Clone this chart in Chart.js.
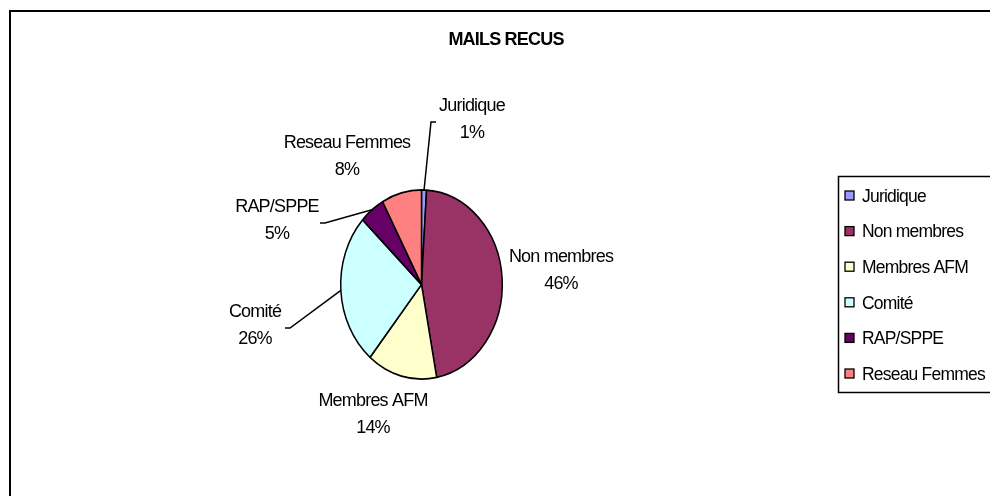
<!DOCTYPE html>
<html>
<head>
<meta charset="utf-8">
<script src="https://cdn.jsdelivr.net/npm/chart.js@4.4.1/dist/chart.umd.min.js"></script>
<style>
  html, body { margin: 0; padding: 0; background: #fff; }
  #wrap { width: 990px; height: 496px; }
</style>
</head>
<body>
<div id="wrap"><canvas id="mails" width="990" height="496"></canvas></div>
<script>
const labels = ['Juridique', 'Non membres', 'Membres AFM', 'Comité', 'RAP/SPPE', 'Reseau Femmes'];
const values = [1, 46, 14, 26, 5, 8];
const colors = ['#9999FF', '#993366', '#FFFFCC', '#CCFFFF', '#660066', '#FF8080'];

// where Excel put the data labels (centre of the two lines), and leader elbows
const labelPos = [[472, 120], [561, 271], [373, 415], [255, 326], [277, 221], [347, 157]];
const leaders = [{x: 431, y: 122, tick: 5}, null, null, {x: 290, y: 328, tick: -5}, {x: 325, y: 223, tick: -5}, null];

const stretchY = 1.17;
const FONT = '"Liberation Sans", Arial, sans-serif';

function setFont(ctx, size, bold) {
  ctx.font = (bold ? 'bold ' : '') + size + 'px ' + FONT;
  ctx.letterSpacing = '-0.8px';
}

const ovalPie = {
  id: 'ovalPie',
  beforeDatasetsDraw(chart) {
    const arc = chart.getDatasetMeta(0).data[0];
    const ctx = chart.ctx;
    ctx.save();
    ctx.translate(arc.x, arc.y);
    ctx.scale(1, stretchY);
    ctx.translate(-arc.x, -arc.y);
  },
  afterDatasetsDraw(chart) {
    chart.ctx.restore();
  }
};

const excelDeco = {
  id: 'excelDeco',
  afterDraw(chart) {
    const ctx = chart.ctx;
    const meta = chart.getDatasetMeta(0);
    ctx.save();

    // outer frame
    ctx.strokeStyle = '#000';
    ctx.lineWidth = 2;
    ctx.strokeRect(10, 11, 1000, 510);

    // title
    ctx.fillStyle = '#000';
    setFont(ctx, 18, true);
    ctx.textAlign = 'center';
    ctx.textBaseline = 'middle';
    ctx.fillText('MAILS RECUS', 506, 40);

    // data labels + leader lines
    setFont(ctx, 18, false);
    const total = values.reduce((a, b) => a + b, 0);
    meta.data.forEach((arc, i) => {
      const [lx, ly] = labelPos[i];
      ctx.fillText(labels[i], lx, ly - 13.5);
      ctx.fillText(Math.round(values[i] / total * 100) + '%', lx, ly + 13.5);
      const ld = leaders[i];
      if (ld) {
        const mid = (arc.startAngle + arc.endAngle) / 2;
        const ex = arc.x + arc.outerRadius * Math.cos(mid);
        const ey = arc.y + arc.outerRadius * stretchY * Math.sin(mid);
        ctx.beginPath();
        ctx.lineWidth = 1.5;
        ctx.moveTo(ld.x + ld.tick, ld.y);
        ctx.lineTo(ld.x, ld.y);
        ctx.lineTo(ex, ey);
        ctx.stroke();
      }
    });

    // legend box
    ctx.lineWidth = 1.5;
    ctx.strokeRect(838.5, 176.5, 160, 216);
    ctx.textAlign = 'left';
    setFont(ctx, 17.5, false);
    labels.forEach((lab, i) => {
      const y = 196 + i * 35.6;
      ctx.fillStyle = colors[i];
      ctx.fillRect(845, y - 5, 9, 9);
      ctx.strokeStyle = '#000';
      ctx.lineWidth = 1.3;
      ctx.strokeRect(845, y - 5, 9, 9);
      ctx.fillStyle = '#000';
      ctx.fillText(lab, 862, y + 1);
    });
    ctx.restore();
  }
};

new Chart(document.getElementById('mails'), {
  type: 'pie',
  data: {
    labels: labels,
    datasets: [{
      data: values,
      backgroundColor: colors,
      borderColor: '#000',
      borderWidth: 1.5
    }]
  },
  options: {
    responsive: false,
    animation: false,
    radius: 80.8,
    layout: { padding: { left: 321.5, right: 468.5, top: 184.5, bottom: 111.5 } },
    plugins: {
      legend: { display: false },
      title: { display: false },
      tooltip: { enabled: false }
    }
  },
  plugins: [ovalPie, excelDeco]
});
</script>
</body>
</html>
